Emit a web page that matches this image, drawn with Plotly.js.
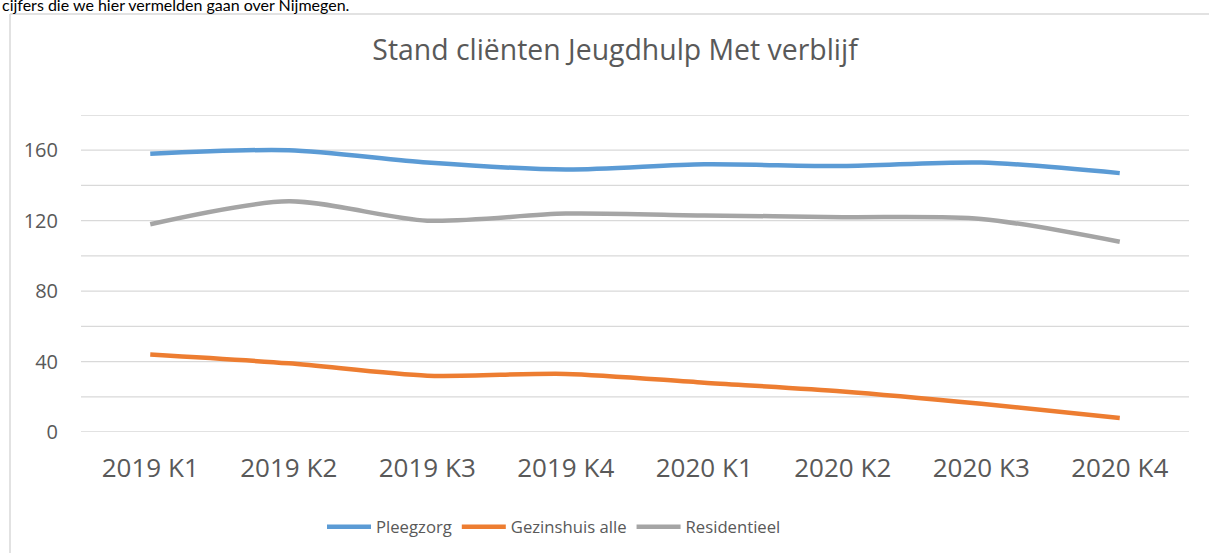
<!DOCTYPE html>
<html>
<head>
<meta charset="utf-8">
<script src="https://cdn.plot.ly/plotly-3.0.1.min.js"></script>
<style>
  html, body { margin: 0; padding: 0; background: #fff; }
  #chart { width: 1209px; height: 553px; }
</style>
</head>
<body>
<div id="chart"></div>
<script>
const categories = ["2019 K1", "2019 K2", "2019 K3", "2019 K4", "2020 K1", "2020 K2", "2020 K3", "2020 K4"];
const pleegzorg = [158, 160, 153, 149, 152, 151, 153, 147];
const gezinshuis = [44, 39, 32, 33, 28, 23, 16, 8];
const residentieel = [118, 131, 120, 124, 123, 122, 121, 108];
const seriesNames = ["Pleegzorg", "Gezinshuis alle", "Residentieel"];
const yTickVals = [0, 40, 80, 120, 160];

const W = 1209, H = 553;
const M = { l: 81, r: 20, t: 115, b: 121 };
const pw = W - M.l - M.r, ph = H - M.t - M.b;
const px = x => (x - M.l) / pw;
const py = y => (H - M.b - y) / ph;

const font = "'Open Sans', sans-serif";
const grey = "#595959";

function tr(name, y, color) {
  return {
    type: "scatter", mode: "lines", name: name, x: categories, y: y,
    line: { color: color, width: 4.5, shape: "spline", smoothing: 0.8 },
    hoverinfo: "skip"
  };
}

const data = [
  tr(seriesNames[0], pleegzorg, "#5B9BD5"),
  tr(seriesNames[1], gezinshuis, "#ED7D31"),
  tr(seriesNames[2], residentieel, "#A5A5A5")
];

const layout = {
  width: W, height: H,
  margin: M,
  paper_bgcolor: "#ffffff", plot_bgcolor: "#ffffff",
  showlegend: true,
  title: {
    text: "Stand cliënten Jeugdhulp Met verblijf",
    font: { family: font, size: 28.4, color: grey },
    x: 615 / W, xanchor: "center", y: 1 - 50 / H, yanchor: "middle", yref: "container",
    automargin: false
  },
  xaxis: {
    type: "category", range: [-0.5, categories.length - 0.5],
    showgrid: false, zeroline: false, showline: false,
    ticks: "outside", ticklen: 13, tickcolor: "rgba(0,0,0,0)",
    tickfont: { family: font, size: 26, color: grey },
    automargin: false, fixedrange: true
  },
  yaxis: {
    range: [0, 180], dtick: 20,
    tickvals: yTickVals,
    showgrid: false, zeroline: false, showline: false,
    ticks: "outside", ticklen: 18, tickcolor: "rgba(0,0,0,0)",
    tickfont: { family: font, size: 20, color: grey },
    automargin: false, fixedrange: true
  },
  legend: {
    orientation: "h", x: 554 / W, xanchor: "center", xref: "container",
    y: 1 - 527 / H, yanchor: "middle", yref: "container",
    font: { family: font, size: 16.7, color: grey },
    itemwidth: 44, tracegroupgap: 0, bgcolor: "rgba(0,0,0,0)"
  },
  shapes: [],
  annotations: [{
    text: "cijfers die we hier vermelden gaan over Nijmegen.",
    xref: "paper", yref: "paper", x: px(0), y: py(9), xanchor: "left", yanchor: "bottom",
    showarrow: false, font: { family: "Lato, sans-serif", size: 16, color: "#000000" }, yshift: -7
  }]
};

// horizontal gridlines every 20 across the plot area
for (let v = 0; v <= 180; v += 20) {
  layout.shapes.push({
    type: "line", xref: "paper", yref: "y", x0: 0, x1: 1, y0: v, y1: v,
    line: { color: "#D9D9D9", width: 1.3 }, layer: "below"
  });
}
// chart frame (left and top edges)
layout.shapes.push({ type: "line", xref: "paper", yref: "paper", x0: px(10), x1: px(W + 5), y0: py(14), y1: py(14), line: { color: "#D9D9D9", width: 1.5 } });
layout.shapes.push({ type: "line", xref: "paper", yref: "paper", x0: px(10), x1: px(10), y0: py(14), y1: py(H + 5), line: { color: "#D9D9D9", width: 1.5 } });

Plotly.newPlot("chart", data, layout, { displayModeBar: false, staticPlot: true });
</script>
</body>
</html>
